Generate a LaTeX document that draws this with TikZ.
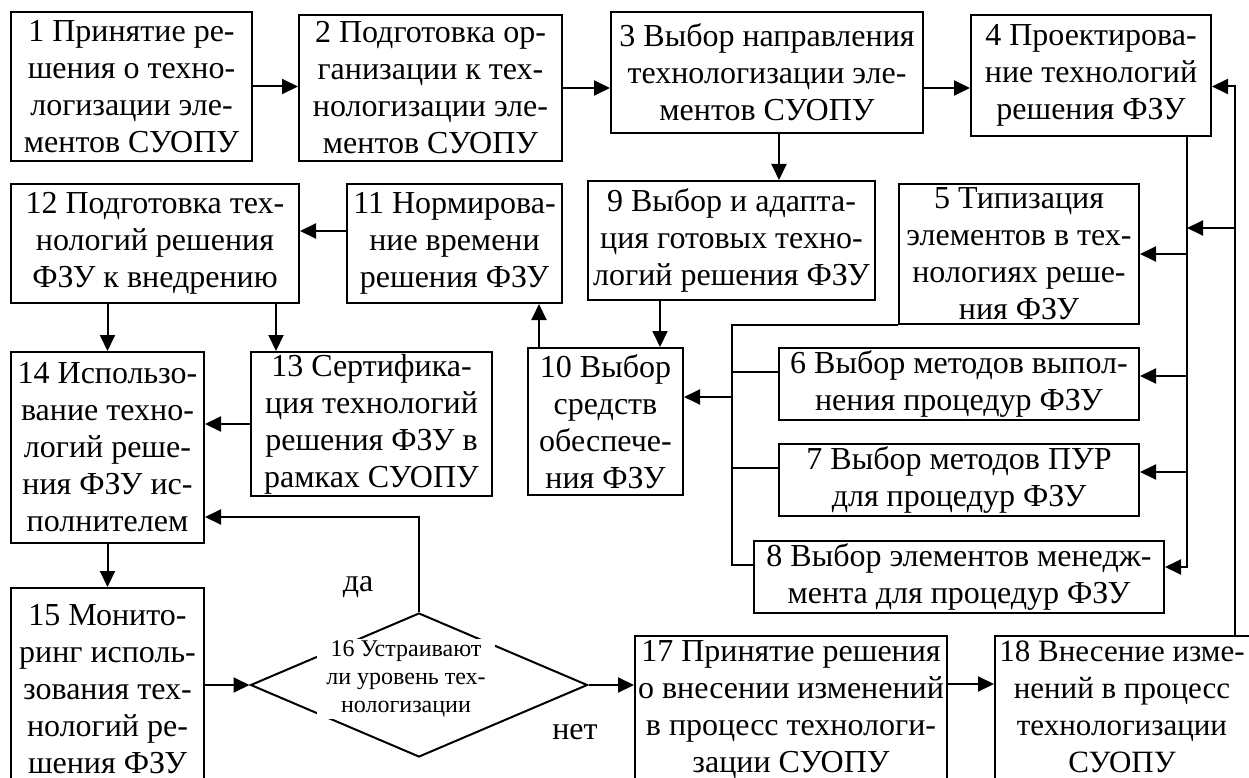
\documentclass[tikz,border=0pt]{standalone}
\usepackage{fontspec}
\setmainfont{Liberation Serif}
\usepackage{tikz}
\usetikzlibrary{arrows.meta,shapes.geometric}

\begin{document}
\begin{tikzpicture}[x=1pt,y=-1pt,
  blok/.style={draw, line width=2pt, inner sep=0pt, align=center,
    font=\fontsize{32}{37}\selectfont},
  arr/.style={line width=2pt, -{Triangle[length=16pt,width=15pt]}},
  lin/.style={line width=2pt},
  mark16/.style={font=\fontsize{32}{37}\selectfont, align=center}]
\useasboundingbox (0,0) rectangle (1249,778);
\clip (0,0) rectangle (1249,778);

% top row
\node[blok, minimum width=241pt, minimum height=149pt] (b1) at (131.5,86.5)
  {1 Принятие ре-\\шения о техно-\\логизации эле-\\ментов СУОПУ};
\node[blok, minimum width=263pt, minimum height=146pt] (b2) at (430.5,88)
  {2 Подготовка ор-\\ганизации к тех-\\нологизации эле-\\ментов СУОПУ};
\node[blok, minimum width=312pt, minimum height=121pt] (b3) at (767,72.5)
  {3 Выбор направления\\технологизации эле-\\ментов СУОПУ};
\node[blok, minimum width=240pt, minimum height=121pt] (b4) at (1091,75.5)
  {4 Проектирова-\\ние технологий\\решения ФЗУ};

% second row
\node[blok, minimum width=288pt, minimum height=119pt] (b12) at (155,243.5)
  {12 Подготовка тех-\\нологий решения\\ФЗУ к внедрению};
\node[blok, minimum width=215pt, minimum height=119pt] (b11) at (454.5,243.5)
  {11 Нормирова-\\ние времени\\решения ФЗУ};
\node[blok, minimum width=287pt, minimum height=119pt] (b9) at (731.5,240.5)
  {9 Выбор и адапта-\\ция готовых техно-\\логий решения ФЗУ};
\node[blok, minimum width=240pt, minimum height=140pt] (b5) at (1019,254)
  {5 Типизация\\элементов в тех-\\нологиях реше-\\ния ФЗУ};

% middle
\node[blok, minimum width=193pt, minimum height=191pt] (b14) at (107.5,447.5)
  {14 Использо-\\вание техно-\\логий реше-\\ния ФЗУ ис-\\полнителем};
\node[blok, minimum width=241pt, minimum height=144pt] (b13) at (371.5,424)
  {13 Сертифика-\\ция технологий\\решения ФЗУ в\\рамках СУОПУ};
\node[blok, minimum width=155pt, minimum height=147pt] (b10) at (605.5,421.5)
  {10 Выбор\\средств\\обеспече-\\ния ФЗУ};
\node[blok, minimum width=360pt, minimum height=72pt] (b6) at (959,384)
  {6 Выбор методов выпол-\\нения процедур ФЗУ};
\node[blok, minimum width=360pt, minimum height=72pt] (b7) at (959,480)
  {7 Выбор методов ПУР\\для процедур ФЗУ};
\node[blok, minimum width=410pt, minimum height=72pt] (b8) at (959,577)
  {8 Выбор элементов менедж-\\мента для процедур ФЗУ};

% bottom row
\node[blok, minimum width=193pt, minimum height=202pt] (b15) at (107.5,689)
  {15 Монито-\\ринг исполь-\\зования тех-\\нологий ре-\\шения ФЗУ};
\node[draw, diamond, line width=2pt, inner sep=0pt,
  minimum width=337pt, minimum height=144pt] (b16) at (419,685) {};
\node[fill=white, inner xsep=9pt, inner ysep=2pt, align=center,
  font=\fontsize{24}{28}\selectfont] (t16) at (406,679)
  {16 Устраивают\\ли уровень тех-\\нологизации};
\node[blok, minimum width=312pt, minimum height=148pt] (b17) at (791,710)
  {17 Принятие решения\\о внесении изменений\\в процесс технологи-\\зации СУОПУ};
\node[blok, minimum width=270pt, minimum height=148pt] (b18) at (1130,710) {};
\node[align=center, font=\fontsize{31}{37}\selectfont] (t18) at (1122,707)
  {18 Внесение изме-\\нений в процесс\\технологизации\\СУОПУ};

\node[mark16] (lda) at (358,587) {да};
\node[mark16] (lnet) at (575,732) {нет};

% bus lines
\coordinate (busL) at (732,0);
\coordinate (busR) at (1187,0);
\coordinate (busF) at (1235,0);
\coordinate (j1) at (1235,228);
\coordinate (s6) at ([yshift=12pt]b6.west);
\coordinate (s7) at ([yshift=12pt]b7.west);
\coordinate (s8) at ([yshift=12pt]b8.west);
\coordinate (e6) at ([yshift=8pt]b6.east);
\coordinate (e7) at ([yshift=8pt]b7.east);
\coordinate (e8) at ([yshift=10pt]b8.east);
\coordinate (s10) at ([yshift=24.5pt]b10.east);
\coordinate (s9) at ([xshift=-71.5pt]b9.south);
\coordinate (s3) at ([xshift=12pt]b3.south);
\coordinate (s11) at ([yshift=12.5pt]b11.west);
\coordinate (s12) at ([xshift=-24pt]b12.south east);
\coordinate (s10n) at ([xshift=12pt]b10.north west);
\coordinate (s14) at ([yshift=-69.5pt]b14.east);
\coordinate (s17) at ([yshift=26pt]b17.east);
\coordinate (e4) at ([yshift=-11pt]b4.east);

\draw[arr] (b1.east) -- (b1.east -| b2.west);
\draw[arr] (b2.east) -- (b2.east -| b3.west);
\draw[arr] (b3.east |- b2.east) -- (b4.west |- b2.east);
\draw[arr] (s3) -- (s3 |- b9.north);

\draw[arr] (b4.south -| busR) |- (e8);
\draw[arr] (busR |- b5.east) -- (b5.east);
\draw[arr] (busR |- e6) -- (e6);
\draw[arr] (busR |- e7) -- (e7);
\draw[arr] (b18.north -| busF) |- (e4);
\draw[arr] (j1) -- (j1 -| busR);

\draw[lin] (b5.south west) -| (busL |- s8) -- (s8);
\draw[lin] (busL |- s6) -- (s6);
\draw[lin] (busL |- s7) -- (s7);
\draw[arr] (busL |- s10) -- (s10);

\draw[arr] (s9) -- (s9 |- b10.north);
\draw[arr] (s10n) -- (s10n |- b11.south);
\draw[arr] (s11) -- (s11 -| b12.east);
\draw[arr] (b14.north |- b12.south) -- (b14.north);
\draw[arr] (s12) -- (s12 |- b13.north);
\draw[arr] (b13.west) -- (b13.west -| b14.east);
\draw[arr] (b14.south) -- (b15.north);
\draw[arr] (b16.west -| b15.east) -- (b16.west);
\draw[arr] (b16.north) |- (s14);
\draw[arr] (b16.east) -- (b16.east -| b17.west);
\draw[arr] (s17) -- (s17 -| b18.west);
\end{tikzpicture}
\end{document}
